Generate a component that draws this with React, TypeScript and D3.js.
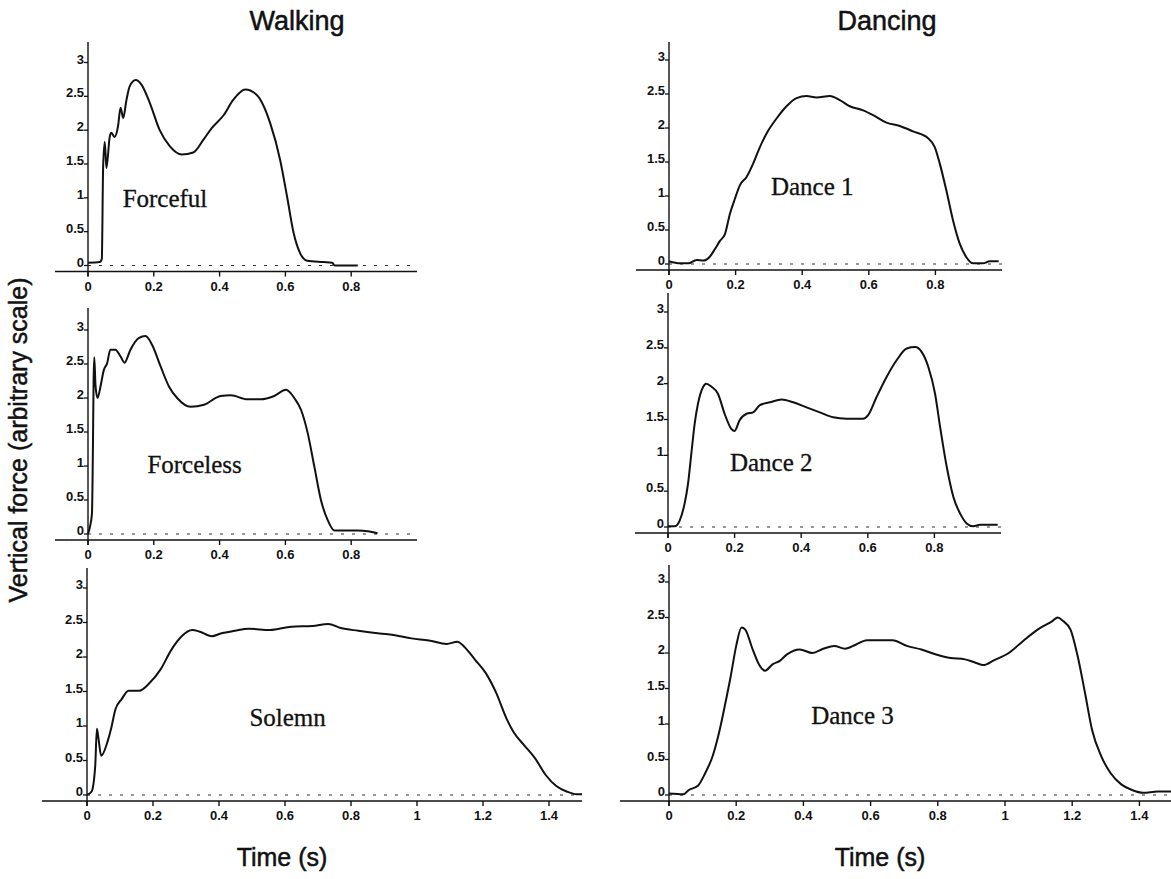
import React from "react";
import * as d3 from "d3";

// ---------- data ----------
const yTicks = [0, 0.5, 1, 1.5, 2, 2.5, 3];
const xTicksShort = [0, 0.2, 0.4, 0.6, 0.8];
const xTicksLong = [0, 0.2, 0.4, 0.6, 0.8, 1, 1.2, 1.4];
const columnTitles = ["Walking", "Dancing"];
const xAxisTitle = "Time (s)";
const yAxisTitle = "Vertical force (arbitrary scale)";

const forcefulTime = [0, 0.036, 0.042, 0.046, 0.051, 0.056, 0.066, 0.071, 0.081, 0.091, 0.099, 0.107, 0.117, 0.127, 0.145, 0.163, 0.188, 0.218, 0.249, 0.285, 0.32, 0.351, 0.376, 0.412, 0.442, 0.478, 0.513, 0.554, 0.584, 0.605, 0.625, 0.645, 0.666, 0.716, 0.742, 0.75, 0.82];
const forcefulForce = [0.04, 0.05, 0.1, 1.46, 1.83, 1.44, 1.9, 1.96, 1.9, 2.05, 2.33, 2.18, 2.45, 2.65, 2.74, 2.67, 2.4, 2.0, 1.76, 1.64, 1.67, 1.86, 2.03, 2.22, 2.45, 2.6, 2.52, 2.1, 1.56, 1.02, 0.48, 0.18, 0.07, 0.05, 0.04, 0.0, 0.0];

const forcelessTime = [0, 0.007, 0.012, 0.015, 0.017, 0.019, 0.023, 0.029, 0.038, 0.048, 0.058, 0.068, 0.083, 0.099, 0.111, 0.129, 0.154, 0.175, 0.195, 0.221, 0.246, 0.271, 0.312, 0.353, 0.403, 0.434, 0.485, 0.525, 0.566, 0.602, 0.627, 0.648, 0.668, 0.688, 0.708, 0.728, 0.749, 0.769, 0.82, 0.85, 0.88];
const forcelessForce = [0, 0.13, 0.3, 1.28, 2.26, 2.6, 2.17, 2.0, 2.17, 2.41, 2.51, 2.71, 2.71, 2.61, 2.52, 2.71, 2.88, 2.91, 2.78, 2.46, 2.17, 2.0, 1.87, 1.9, 2.03, 2.04, 1.98, 1.98, 2.03, 2.12, 2.0, 1.82, 1.48, 0.99, 0.5, 0.21, 0.05, 0.05, 0.05, 0.04, 0.01];

const solemnTime = [0, 0.014, 0.025, 0.03, 0.035, 0.043, 0.062, 0.073, 0.086, 0.105, 0.126, 0.158, 0.191, 0.223, 0.255, 0.287, 0.319, 0.34, 0.378, 0.405, 0.448, 0.49, 0.555, 0.619, 0.683, 0.731, 0.769, 0.822, 0.887, 0.929, 0.983, 1.036, 1.09, 1.122, 1.143, 1.176, 1.208, 1.24, 1.272, 1.293, 1.325, 1.358, 1.39, 1.422, 1.454, 1.484, 1.5];
const solemnForce = [0, 0.05, 0.43, 0.96, 0.81, 0.57, 0.77, 0.96, 1.24, 1.39, 1.51, 1.51, 1.63, 1.82, 2.1, 2.3, 2.39, 2.37, 2.3, 2.34, 2.38, 2.41, 2.39, 2.44, 2.45, 2.48, 2.42, 2.38, 2.34, 2.32, 2.27, 2.24, 2.19, 2.22, 2.15, 1.96, 1.77, 1.48, 1.1, 0.91, 0.72, 0.53, 0.29, 0.13, 0.05, 0.01, 0.01];

const dance1Time = [0, 0.033, 0.058, 0.083, 0.103, 0.123, 0.138, 0.153, 0.168, 0.183, 0.198, 0.213, 0.233, 0.253, 0.273, 0.293, 0.323, 0.353, 0.383, 0.413, 0.443, 0.483, 0.513, 0.543, 0.583, 0.613, 0.653, 0.693, 0.733, 0.778, 0.798, 0.813, 0.833, 0.853, 0.873, 0.893, 0.913, 0.943, 0.963, 0.99];
const dance1Force = [0.04, 0.01, 0.01, 0.06, 0.05, 0.11, 0.22, 0.34, 0.44, 0.74, 0.96, 1.16, 1.28, 1.48, 1.72, 1.92, 2.14, 2.32, 2.44, 2.47, 2.45, 2.47, 2.41, 2.32, 2.26, 2.19, 2.08, 2.03, 1.95, 1.85, 1.72, 1.48, 1.08, 0.64, 0.3, 0.1, 0.01, 0.01, 0.04, 0.04];

const dance2Time = [0, 0.02, 0.035, 0.05, 0.06, 0.07, 0.08, 0.09, 0.105, 0.115, 0.13, 0.15, 0.17, 0.19, 0.2, 0.215, 0.236, 0.256, 0.276, 0.306, 0.341, 0.376, 0.416, 0.456, 0.496, 0.536, 0.586, 0.601, 0.626, 0.656, 0.687, 0.717, 0.742, 0.762, 0.782, 0.802, 0.817, 0.837, 0.857, 0.877, 0.897, 0.917, 0.937, 0.967, 0.99];
const dance2Force = [0.01, 0.01, 0.09, 0.33, 0.6, 1.02, 1.44, 1.72, 1.95, 2.0, 1.96, 1.86, 1.58, 1.37, 1.34, 1.49, 1.58, 1.6, 1.7, 1.74, 1.78, 1.74, 1.67, 1.6, 1.53, 1.51, 1.51, 1.56, 1.81, 2.09, 2.33, 2.49, 2.51, 2.44, 2.23, 1.86, 1.4, 0.84, 0.42, 0.19, 0.05, 0.01, 0.03, 0.03, 0.03];

const dance3Time = [0, 0.043, 0.059, 0.086, 0.108, 0.13, 0.151, 0.168, 0.184, 0.2, 0.216, 0.227, 0.249, 0.27, 0.286, 0.308, 0.33, 0.351, 0.389, 0.427, 0.459, 0.492, 0.524, 0.557, 0.589, 0.622, 0.665, 0.708, 0.751, 0.795, 0.838, 0.881, 0.914, 0.935, 0.968, 1.011, 1.054, 1.097, 1.141, 1.157, 1.173, 1.195, 1.216, 1.238, 1.259, 1.286, 1.314, 1.346, 1.378, 1.411, 1.454, 1.495];
const dance3Force = [0.02, 0.01, 0.07, 0.13, 0.31, 0.55, 0.92, 1.3, 1.68, 2.1, 2.36, 2.33, 2.05, 1.82, 1.75, 1.84, 1.89, 1.98, 2.05, 2.0, 2.06, 2.1, 2.06, 2.12, 2.18, 2.18, 2.18, 2.1, 2.05, 1.98, 1.93, 1.91, 1.86, 1.83, 1.9, 2.0, 2.17, 2.33, 2.45, 2.5, 2.45, 2.33, 1.96, 1.44, 0.92, 0.55, 0.31, 0.15, 0.07, 0.03, 0.05, 0.05];

// ---------- layout ----------
type Panel = {
  name: string; time: number[]; force: number[]; ticks: number[];
  x0: number; ppu: number; xEnd: number; xLeft: number;
  y0: number; y3: number; yTop: number; labelT: number; labelF: number;
};

const panels: Panel[] = [
  { name: "Forceful", time: forcefulTime, force: forcefulForce, ticks: xTicksShort, x0: 88, ppu: 329, xEnd: 1.0, xLeft: 55, y0: 265.5, y3: 62.5, yTop: 42, labelT: 0.234, labelF: 0.87 },
  { name: "Forceless", time: forcelessTime, force: forcelessForce, ticks: xTicksShort, x0: 88, ppu: 329, xEnd: 1.0, xLeft: 55, y0: 534, y3: 330, yTop: 308, labelT: 0.324, labelF: 0.9 },
  { name: "Solemn", time: solemnTime, force: solemnForce, ticks: xTicksLong, x0: 87, ppu: 330, xEnd: 1.5, xLeft: 42, y0: 795, y3: 588, yTop: 568, labelT: 0.608, labelF: 1.0 },
  { name: "Dance 1", time: dance1Time, force: dance1Force, ticks: xTicksShort, x0: 669, ppu: 333, xEnd: 1.0, xLeft: 636, y0: 264, y3: 60, yTop: 42, labelT: 0.43, labelF: 1.02 },
  { name: "Dance 2", time: dance2Time, force: dance2Force, ticks: xTicksShort, x0: 668, ppu: 333, xEnd: 1.0, xLeft: 635, y0: 527, y3: 312, yTop: 293, labelT: 0.31, labelF: 0.78 },
  { name: "Dance 3", time: dance3Time, force: dance3Force, ticks: xTicksLong, x0: 669, ppu: 336, xEnd: 1.5, xLeft: 620, y0: 795, y3: 582, yTop: 565, labelT: 0.546, labelF: 1.0 },
];

const SANS = "'Liberation Sans', Arial, Helvetica, sans-serif";
const SERIF = "'Liberation Serif', 'Times New Roman', serif";
const INK = "#111";

function PanelView({ p }: { p: Panel }) {
  const x = d3.scaleLinear().domain([0, 1]).range([p.x0, p.x0 + p.ppu]);
  const y = d3.scaleLinear().domain([0, 3]).range([p.y0, p.y3]);
  const axisY = y(0) + 6;
  const pts: [number, number][] = p.time.map((t, i) => [t, p.force[i]]);
  const line = d3.line<[number, number]>()
    .x((d) => x(d[0]))
    .y((d) => y(d[1]))
    .curve(d3.curveMonotoneX);
  const fmt = (v: number) => (v === 0 ? "0" : String(v));
  return (
    <g>
      {/* zero reference (dashed) */}
      <line x1={x(0)} x2={x(p.xEnd)} y1={y(0)} y2={y(0)} stroke="#333" strokeWidth={1.1} strokeDasharray="3 8" />
      {/* x axis */}
      <line x1={p.xLeft} x2={x(p.xEnd)} y1={axisY} y2={axisY} stroke={INK} strokeWidth={1.5} />
      {p.ticks.map((t) => (
        <g key={"xt" + t}>
          <line x1={x(t)} x2={x(t)} y1={axisY} y2={axisY + 5} stroke={INK} strokeWidth={1.4} />
          <text x={x(t)} y={axisY + 19} textAnchor="middle" fontFamily={SANS} fontWeight="bold" fontSize={13} fill={INK}>{fmt(t)}</text>
        </g>
      ))}
      {/* y axis */}
      <line x1={x(0)} x2={x(0)} y1={p.yTop} y2={axisY + 5} stroke={INK} strokeWidth={1.4} />
      {yTicks.map((v) => (
        <g key={"yt" + v}>
          <line x1={x(0) - 4} x2={x(0)} y1={y(v)} y2={y(v)} stroke={INK} strokeWidth={1.3} />
          <text x={x(0) - 4} y={y(v) + 1} textAnchor="end" fontFamily={SANS} fontWeight="bold" fontSize={13} fill={INK}>{fmt(v)}</text>
        </g>
      ))}
      {/* force curve */}
      <path d={line(pts) || ""} fill="none" stroke={INK} strokeWidth={2} strokeLinejoin="round" />
      {/* panel label */}
      <text x={x(p.labelT)} y={y(p.labelF)} textAnchor="middle" fontFamily={SERIF} fontSize={25} fill={INK} stroke={INK} strokeWidth={0.3}>{p.name}</text>
    </g>
  );
}

export default function App() {
  const titleStyle = { fontFamily: SANS, fill: INK, stroke: INK, strokeWidth: 0.5 } as React.CSSProperties;
  return (
    <svg width={1171} height={879} viewBox="0 0 1171 879" style={{ position: "absolute", left: 0, top: 0, background: "#fff" }}>
      <rect x={0} y={0} width={1171} height={879} fill="#fff" />
      <text x={297} y={30} textAnchor="middle" fontSize={27} style={titleStyle}>{columnTitles[0]}</text>
      <text x={887} y={30} textAnchor="middle" fontSize={27} style={titleStyle}>{columnTitles[1]}</text>
      <text transform="translate(27,440) rotate(-90)" textAnchor="middle" fontSize={25} style={titleStyle}>{yAxisTitle}</text>
      <text x={282} y={866} textAnchor="middle" fontSize={25} style={titleStyle}>{xAxisTitle}</text>
      <text x={880} y={866} textAnchor="middle" fontSize={25} style={titleStyle}>{xAxisTitle}</text>
      {panels.map((p) => <PanelView key={p.name} p={p} />)}
    </svg>
  );
}
